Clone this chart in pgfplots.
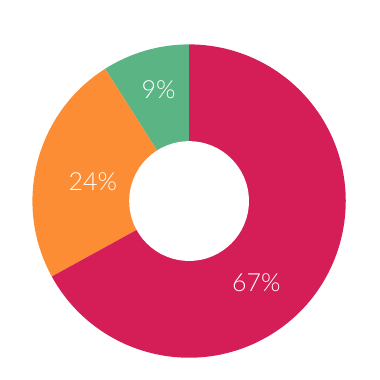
\documentclass[border=0pt]{standalone}
\usepackage{pgfplots}
\pgfplotsset{compat=1.18}
\usepackage{fontspec}
\setmainfont{Lato}
\newfontfamily\lblfont{Lato Light}
\definecolor{cCrimson}{HTML}{D51E58}
\definecolor{cOrange}{HTML}{FC8D34}
\definecolor{cGreen}{HTML}{5BB484}
% slice values (percent), counter-clockwise from the top
\def\vA{9}\def\vB{24}\def\vC{67}
\def\cx{189.5}\def\cy{158.5}
\def\Rout{157}\def\Rin{60}
\pgfmathsetmacro{\aA}{90}
\pgfmathsetmacro{\aB}{\aA+3.6*\vA}
\pgfmathsetmacro{\aC}{\aB+3.6*\vB}
\pgfmathsetmacro{\aD}{\aC+3.6*\vC}
\begin{document}
\begin{tikzpicture}
\begin{axis}[at={(0,0)}, anchor=south west, scale only axis,
  width=380pt, height=360pt, xmin=0, xmax=380, ymin=0, ymax=360,
  hide axis, clip=false]
\fill[cGreen] (axis cs:\cx,\cy) -- ++(\aA:\Rout pt) arc[start angle=\aA, end angle=\aB, radius=\Rout pt] -- cycle;
\fill[cOrange] (axis cs:\cx,\cy) -- ++(\aB:\Rout pt) arc[start angle=\aB, end angle=\aC, radius=\Rout pt] -- cycle;
\fill[cCrimson] (axis cs:\cx,\cy) -- ++(\aC:\Rout pt) arc[start angle=\aC, end angle=\aD, radius=\Rout pt] -- cycle;
\fill[white] (axis cs:\cx,\cy) circle[radius=\Rin pt];
\node[text=white, font=\lblfont\fontsize{25}{30}\selectfont] at (axis cs:159,270) {\vA\%};
\node[text=white, font=\lblfont\fontsize{25}{30}\selectfont] at (axis cs:93,178) {\vB\%};
\node[text=white, font=\lblfont\fontsize{25}{30}\selectfont] at (axis cs:257,77) {\vC\%};
\end{axis}
\path (0,0) rectangle (380pt,360pt);
\end{tikzpicture}
\end{document}
